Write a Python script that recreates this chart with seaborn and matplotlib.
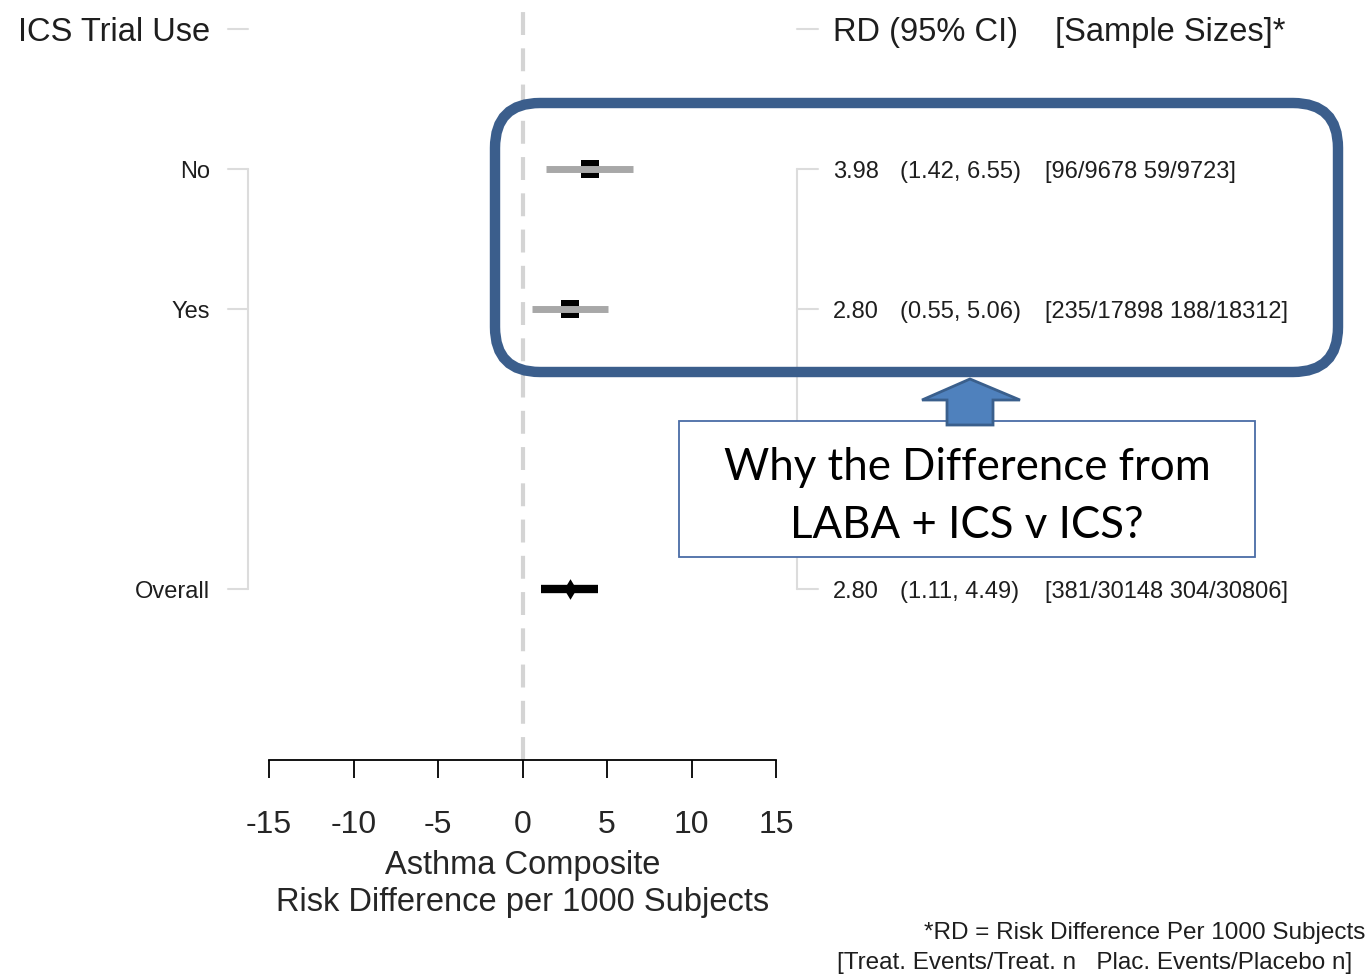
import numpy as np
import pandas as pd
import seaborn as sns
import matplotlib.pyplot as plt
from matplotlib.patches import FancyBboxPatch, Polygon, Rectangle
from matplotlib.transforms import blended_transform_factory

# ---------------- data ----------------
groups = ["No", "Yes", "Overall"]
rd = [3.98, 2.80, 2.80]
ci_low = [1.42, 0.55, 1.11]
ci_high = [6.55, 5.06, 4.49]
sample_sizes = ["[96/9678 59/9723]", "[235/17898 188/18312]", "[381/30148 304/30806]"]
xticks = [-15, -10, -5, 0, 5, 10, 15]

# ---------------- style ----------------
sns.set_theme(style="white")
plt.rcParams['font.family'] = ['Liberation Sans', 'DejaVu Sans']
TXT = "#1e1e1e"

W, H = 1368, 974
fig = plt.figure(figsize=(W / 100, H / 100), dpi=100)
ax = fig.add_axes([269 / W, 1 - 760 / H, 507 / W, 760 / H])

n_sub = len(groups) - 1
df = pd.DataFrame({"group": groups, "rd": rd, "lo": ci_low, "hi": ci_high,
                   "samples": sample_sizes})
df["row"] = list(range(1, n_sub + 1)) + [n_sub + 2]
df["kind"] = ["sub"] * n_sub + ["overall"]
sub = df[df.kind == "sub"]
ovr = df[df.kind == "overall"]

ax.set_xlim(-15, 15)
ax.set_ylim(5.22, -0.21)

# reference line at 0
ax.axvline(0, ymin=0, ymax=(760 - 10) / 760, color="#D4D4D4", lw=3,
           ls=(0, (5.5, 3.2)), zorder=1)

# subgroup estimates: black box behind grey CI line
sns.scatterplot(data=sub, x="rd", y="row", marker="s", s=170, color="black",
                edgecolor="black", linewidth=0, zorder=2, ax=ax, legend=False)
ax.hlines(sub["row"], sub["lo"], sub["hi"], color="#A8A8A8", lw=5, zorder=3)

# overall
ax.hlines(ovr["row"], ovr["lo"], ovr["hi"], color="black", lw=6, zorder=2)
sns.scatterplot(data=ovr, x="rd", y="row", marker="d", s=110, color="black",
                edgecolor="black", linewidth=0, zorder=3, ax=ax, legend=False)

# axes styling
for s in ["left", "right", "top"]:
    ax.spines[s].set_visible(False)
ax.spines["bottom"].set_color("black")
ax.spines["bottom"].set_linewidth(1.3)
ax.set_yticks([])
ax.set_ylabel("")
ax.set_xticks(xticks)
ax.set_xticklabels([str(t) for t in xticks])
ax.tick_params(axis="x", bottom=True, direction="out", length=13, width=1.3,
               color="black", pad=23, labelsize=23, labelcolor="#262626")
ax.set_xlabel("Asthma Composite\nRisk Difference per 1000 Subjects",
              fontsize=23.5, color="#262626", labelpad=7, linespacing=1.25)

# bracket guides and text columns
trans = blended_transform_factory(fig.transFigure, ax.transData)
GRID = "#DCDCDC"
rows = df["row"].tolist()
for xv, xt0, xt1 in [(248, 228, 248), (797, 797, 818)]:
    ax.plot([xv / W, xv / W], [rows[0], rows[-1]], transform=trans, color=GRID,
            lw=1.5, clip_on=False)
    for r in [0] + rows:
        ax.plot([xt0 / W, xt1 / W], [r, r], transform=trans, color=GRID,
                lw=1.5, clip_on=False)

VA = "center_baseline"
ax.text(210 / W, 0, "ICS Trial Use", transform=trans, ha="right", va=VA,
        fontsize=23.5, color=TXT)
ax.text(833 / W, 0, "RD (95% CI)", transform=trans, ha="left", va=VA,
        fontsize=23.5, color=TXT)
ax.text(1055 / W, 0, "[Sample Sizes]*", transform=trans, ha="left", va=VA,
        fontsize=23.5, color=TXT)

for _, r in df.iterrows():
    ax.text(210 / W, r["row"], r["group"], transform=trans, ha="right",
            va=VA, fontsize=17, color=TXT)
    ax.text(833 / W, r["row"], f"{r['rd']:.2f}", transform=trans, ha="left",
            va=VA, fontsize=17, color=TXT)
    ax.text(900 / W, r["row"], f"({r['lo']:.2f}, {r['hi']:.2f})", transform=trans,
            ha="left", va=VA, fontsize=17, color=TXT)
    ax.text(1045 / W, r["row"], r["samples"], transform=trans, ha="left",
            va=VA, fontsize=17, color=TXT)

# footnote
fig.text(1365 / W, 1 - 930 / H, "*RD = Risk Difference Per 1000 Subjects",
         ha="right", va=VA, fontsize=17.5, color=TXT)
fig.text(1352 / W, 1 - 960 / H, "[Treat. Events/Treat. n   Plac. Events/Placebo n]",
         ha="right", va=VA, fontsize=17.5, color=TXT)

# ---------------- callout overlay ----------------
def P(x, y):
    return (x / 100, (H - y) / 100)

box = FancyBboxPatch(P(495, 372), (1338 - 495) / 100, (372 - 103) / 100,
                     boxstyle="round,pad=0,rounding_size=0.45",
                     transform=fig.dpi_scale_trans, fc="none", ec="#3B5E8C",
                     lw=7.5, zorder=10)
fig.add_artist(box)

tbox = Rectangle(P(679, 557), (1255 - 679) / 100, (557 - 421) / 100,
                 transform=fig.dpi_scale_trans, fc="white", ec="#4A6CA6",
                 lw=1.3, zorder=10)
fig.add_artist(tbox)

arrow = Polygon([P(970, 379), P(1020, 400), P(993, 400), P(993, 425),
                 P(947, 425), P(947, 400), P(922, 400)], closed=True,
                transform=fig.dpi_scale_trans, fc="#4F81BD", ec="#3A5F8C",
                lw=2, zorder=11)
fig.add_artist(arrow)

fig.text(967 / W, 1 - 463 / H, "Why the Difference from", ha="center",
         va=VA, fontsize=31.5, family=["Lato", "DejaVu Sans"], color="black",
         zorder=12)
fig.text(967 / W, 1 - 521 / H, "LABA + ICS v ICS?", ha="center",
         va=VA, fontsize=31.5, family=["Lato", "DejaVu Sans"], color="black",
         zorder=12)

fig.savefig("out.png", dpi=100)
